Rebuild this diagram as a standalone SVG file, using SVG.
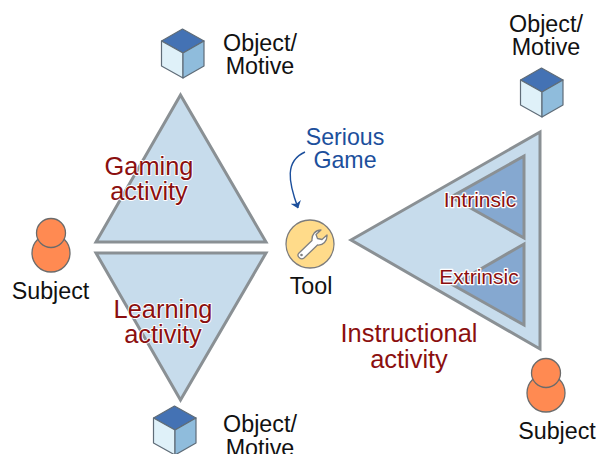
<svg xmlns="http://www.w3.org/2000/svg" width="598" height="454" viewBox="0 0 598 454">
<style>
text{font-family:"Liberation Sans",Arial,sans-serif;text-anchor:middle}
.k{font-size:23.300px;fill:#111}
.r{font-size:25.400px;fill:#8b0f0f;paint-order:stroke;stroke:#fff;stroke-width:1.800px;stroke-linejoin:round}
.s{font-size:21px;fill:#8b0f0f;paint-order:stroke;stroke:#fff;stroke-width:2.500px;stroke-linejoin:round}
.b{font-size:23.200px;fill:#1c4f9c}
.tri{fill:#c7dcec;stroke:#8a9094;stroke-width:3}
.in{fill:#85a8d0;stroke:#8a9094;stroke-width:3}
.p{fill:#ff8a52;stroke:#6b6b6b;stroke-width:1.300}
.e{stroke:#5f6c78;stroke-width:1.200;stroke-linejoin:round}
</style>
<defs>
<g id="cube">
<path class="e" fill="#4472b4" d="M21 0 42.500 12 21.500 24 0 12Z"/>
<path class="e" fill="#dff1f9" d="M0 12 21.500 24V49L0 37Z"/>
<path class="e" fill="#8fbcdc" d="M42.500 12V37L21.500 49V24Z"/>
</g>
<g id="person">
<circle class="p" cx="0" cy="20" r="19"/>
<circle class="p" cx="0" cy="0" r="14.500"/>
</g>
<marker id="ah" viewBox="0 0 7 11" refX="6.500" refY="5.500" markerWidth="7" markerHeight="11" orient="auto" markerUnits="userSpaceOnUse"><path d="M0 0 7 5.500 0 11 2 5.500Z" fill="#1c4f9c"/></marker>
</defs>
<g id="gaming-activity"><path class="tri" d="M180.500 95 96 242H266Z"/><text class="r" x="149" y="175">Gaming</text><text class="r" x="149" y="200">activity</text></g>
<g id="learning-activity"><path class="tri" d="M96 253H266L180.500 400Z"/><text class="r" x="163" y="318">Learning</text><text class="r" x="163" y="343">activity</text></g>
<g id="instructional-activity"><path class="tri" d="M351 240 540 132V349Z"/><text class="r" x="409" y="342">Instructional</text><text class="r" x="409" y="368">activity</text></g>
<g id="intrinsic"><path class="in" d="M524 156V238L451 197Z"/><text class="s" x="480" y="207">Intrinsic</text></g>
<g id="extrinsic"><path class="in" d="M524 244V325L453 285Z"/><text class="s" x="479" y="284">Extrinsic</text></g>
<g id="object-top"><use href="#cube" x="161.500" y="29"/><text class="k" x="260" y="51">Object/</text><text class="k" x="260" y="74">Motive</text></g>
<g id="object-right"><use href="#cube" x="520.500" y="68"/><text class="k" x="546" y="32">Object/</text><text class="k" x="546" y="55">Motive</text></g>
<g id="object-bottom"><use href="#cube" x="153.500" y="406"/><text class="k" x="260" y="432">Object/</text><text class="k" x="260" y="456">Motive</text></g>
<g id="subject-left"><use href="#person" x="51" y="233"/><text class="k" x="50.500" y="299">Subject</text></g>
<g id="subject-right"><use href="#person" x="546" y="373"/><text class="k" x="557" y="439">Subject</text></g>
<g id="tool"><circle cx="310" cy="244" r="24" fill="#ffdb8a" stroke="#7c7c7c" stroke-width="1.300"/>
<path fill="#fff" stroke="#808080" stroke-width="1.300" stroke-linejoin="round" d="M321 230 316 234.500 317.500 238.500 322 239.500 327 235C327.500 241 323 245.500 317.500 245L304 258C301 260.500 296.500 256.500 298.500 253.500L312 240.500C311.500 234.500 315.500 230 321 230Z"/>
<circle cx="301.500" cy="255" r="1.300" fill="#808080"/>
<text class="k" x="311" y="294">Tool</text></g>
<g id="serious-game"><text class="b" x="345" y="145">Serious</text><text class="b" x="345" y="168">Game</text></g>
<g id="connectors"><path fill="none" stroke="#1c4f9c" stroke-width="1.400" marker-end="url(#ah)" d="M305 152C285 161 288 181 298 208"/></g>
</svg>
